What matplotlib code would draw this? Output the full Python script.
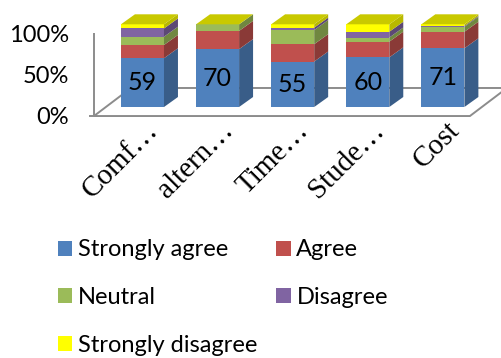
import matplotlib
matplotlib.use("Agg")
import matplotlib.pyplot as plt
from matplotlib.patches import Polygon, Patch
from matplotlib.colors import to_rgb
import numpy as np

# ---- data -------------------------------------------------------------
categories = ["Comf\u2026", "altern\u2026", "Time\u2026", "Stude\u2026", "Cost"]
series_names = ["Strongly agree", "Agree", "Neutral", "Disagree", "Strongly disagree"]
strongly_agree = [59, 70, 55, 60, 71]
agree = [16, 22, 21, 19, 20]
neutral = [10, 8, 17, 5, 6]
disagree = [10, 0, 3, 7, 1]
strongly_disagree = [5, 0, 4, 9, 2]
y_ticks = [0, 50, 100]
y_tick_labels = ["0%", "50%", "100%"]

colors = ["#4F81BD", "#C0504D", "#9BBB59", "#8064A2", "#FFFF00"]

# ---- figure -----------------------------------------------------------
W, H, DPI = 502, 358, 100
fig = plt.figure(figsize=(W / DPI, H / DPI), dpi=DPI)
ax = fig.add_axes([0, 0, 1, 1])
ax.set_xlim(-1.897, 4.787)
ax.set_ylim(-303.5, 129.4)
ax.axis("off")

label_font = "Lato"
serif_font = "Liberation Serif"

series = [strongly_agree, agree, neutral, disagree, strongly_disagree]
data = np.array(series, dtype=float)
totals = data.sum(axis=0)
pct = data / totals * 100.0

n = len(categories)
x = np.arange(n)
bar_w = 0.573
DX, DY = 0.186, 12.1          # depth offset of the columns
FDX, FDY = 0.493, 33.9        # depth of the floor
floor_front = -10.9
floor_left = -0.646
floor_right = n - 1 + 0.36

def shade(c, f=0.72):
    r, g, b = to_rgb(c)
    return (r * f, g * f, b * f)

grid_col = "#8C8C8C"

# floor and front wall edge
floor = Polygon([(floor_left, floor_front), (floor_right, floor_front),
                 (floor_right + FDX, floor_front + FDY),
                 (floor_left + FDX, floor_front + FDY)],
                closed=True, facecolor="white", edgecolor=grid_col,
                linewidth=1.4, zorder=1)
ax.add_patch(floor)
ax.plot([floor_left, floor_left], [floor_front, floor_front + 100.4],
        color=grid_col, linewidth=1.4, zorder=1, solid_capstyle="butt")
ax.plot([floor_left - 0.05, floor_left], [floor_front, floor_front],
        color=grid_col, linewidth=1.4, zorder=1)

# y-axis labels on the front wall edge
for v, lab in zip(y_ticks, y_tick_labels):
    ax.text(floor_left - 0.333, -12.1 + v * 0.99, lab, ha="right", va="center",
            fontsize=17, family=label_font, color="black")

# stacked 3D-style columns
bottom = np.zeros(n)
for k, (vals, col) in enumerate(zip(pct, colors)):
    ax.bar(x, vals, bottom=bottom, width=bar_w, color=col,
           edgecolor="none", zorder=3)
    for i in range(n):
        if vals[i] <= 0:
            continue
        xr = x[i] + bar_w / 2
        b, t = bottom[i], bottom[i] + vals[i]
        side = Polygon([(xr, b), (xr + DX, b + DY), (xr + DX, t + DY), (xr, t)],
                       closed=True, facecolor=shade(col), edgecolor="none",
                       zorder=3)
        ax.add_patch(side)
    bottom += vals

# top faces take the colour of the top series
for i in range(n):
    xl, xr = x[i] - bar_w / 2, x[i] + bar_w / 2
    t = bottom[i]
    top = Polygon([(xl, t), (xl + DX, t + DY), (xr + DX, t + DY), (xr, t)],
                  closed=True, facecolor=shade(colors[-1], 0.79),
                  edgecolor="none", zorder=3)
    ax.add_patch(top)

# value labels on the first series
for i in range(n):
    ax.text(x[i], pct[0][i] / 2, f"{strongly_agree[i]:d}", ha="center",
            va="center", fontsize=18, family=label_font, color="black",
            zorder=5)

# category labels
for i, cat in enumerate(categories):
    ax.text(x[i] + 0.23, -29.5, cat, rotation=45, rotation_mode="anchor",
            ha="right", va="baseline", fontsize=21, family=serif_font,
            color="black")

# legend, filled row by row
handles = [Patch(facecolor=c, edgecolor="none") for c in colors]
order = [0, 2, 4, 1, 3]
fig.legend([handles[j] for j in order], [series_names[j] for j in order],
           ncol=2, loc="upper left", bbox_to_anchor=(58 / W, 1 - 239.5 / H),
           frameon=False, prop={"family": label_font, "size": 17},
           handlelength=0.6, handleheight=0.6, handletextpad=0.25,
           labelspacing=1.13, columnspacing=0.8, borderpad=0,
           borderaxespad=0)

fig.savefig("out.png", dpi=DPI)
